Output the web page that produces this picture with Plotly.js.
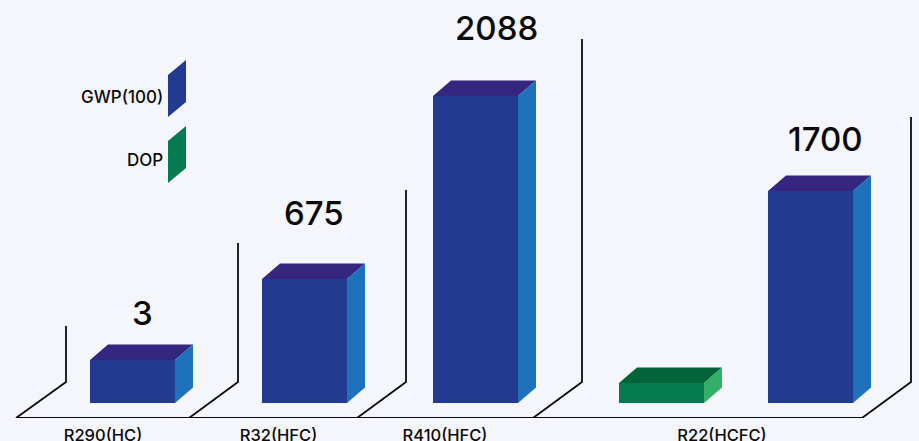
<!DOCTYPE html>
<html><head><meta charset="utf-8">
<script src="https://cdn.plot.ly/plotly-3.0.1.min.js"></script>
<style>html,body{margin:0;padding:0;background:#f4f6fb;overflow:hidden}#c{width:919px;height:441px}</style>
</head><body><div id="c"></div>
<script>
// Data: drawn heights (the source bars are not to scale)
const categories = ['R290(HC)', 'R32(HFC)', 'R410(HFC)', 'R22(HCFC)'];
const gwpLabels = ['3', '675', '2088', '1700'];
const gwpHeights = [43, 124, 307, 212];
const dopHeights = [20];
const legendNames = ['GWP(100)', 'DOP'];

// Layout constants
const gwpX = [132.5, 304.5, 475.5, 810.5];
const dopX = [661.5];
const tickX = [103, 278.5, 445, 722];
const labelX = [142, 314, 496, 825.5];
const labelPos = [90, 190, 375, 264];
const legendTextPos = [306, 243];
const legendSwatchPos = [286, 220];
const W = 85, DX = 18, DY = 15.5, BASE = 15, SWATCH = 42;
const wallX = [66, 238, 406, 582, 911];
const floorStart = [16, 189, 357, 533, 862];
const wallTop = [77, 160, 213, 364, 286];
const C = {front:'#223a8f', top:'#352680', side:'#1e72bb',
           gFront:'#047a50', gTop:'#036537', gSide:'#32ae68'};

function faces(xs, hs) {
  const top = {x:[], y:[]}, side = {x:[], y:[]};
  xs.forEach((c, i) => {
    const l = c - W/2, r = c + W/2, h = hs[i];
    top.x.push(l, l+DX, r+DX, r, l, null);
    top.y.push(h, h+DY, h+DY, h, h, null);
    side.x.push(r, r+DX, r+DX, r, r, null);
    side.y.push(h, h+DY, DY, 0, h, null);
  });
  return {top, side};
}
function poly(p, color, name) {
  return {type:'scatter', mode:'lines', x:p.x, y:p.y, fill:'toself', fillcolor:color,
          line:{width:0, color:color}, hoverinfo:'skip', showlegend:false, name:name};
}
function bar(xs, hs, color, name) {
  return {type:'bar', x:xs, y:hs, width:W, base:0, marker:{color:color, line:{width:0}},
          name:name, hoverinfo:'skip', showlegend:false};
}
const g = faces(gwpX, gwpHeights), d = faces(dopX, dopHeights);
const traces = [
  bar(gwpX, gwpHeights, C.front, legendNames[0]),
  bar(dopX, dopHeights, C.gFront, legendNames[1]),
  poly(g.top, C.top, 'top'), poly(g.side, C.side, 'side'),
  poly(d.top, C.gTop, 'top'), poly(d.side, C.gSide, 'side')
];

const line = {color:'#0b0b0b', width:1.8};
const shapes = [
  {type:'line', xref:'x', yref:'y', x0:floorStart[0], x1:floorStart[4], y0:-BASE, y1:-BASE, line}
];
wallX.forEach((wx, i) => {
  shapes.push({type:'path', xref:'x', yref:'y', line, fillcolor:'rgba(0,0,0,0)',
    path:`M${floorStart[i]},${-BASE} L${wx},${21} L${wx},${wallTop[i]}`});
});
[C.front, C.gFront].forEach((col, i) => {
  const b = legendSwatchPos[i];
  shapes.push({type:'path', xref:'x', yref:'y', fillcolor:col, line:{width:0},
    path:`M168,${b} L168,${b+SWATCH} L186,${b+SWATCH+15} L186,${b+15} Z`});
});

const font = {family:'Inter, "Open Sans", sans-serif', color:'#0a0a0a'};
const annotations = gwpLabels.map((t, i) => ({
  text:t, x:labelX[i], y:labelPos[i], xref:'x', yref:'y', showarrow:false,
  xanchor:'center', yanchor:'middle', font:{...font, size:33, weight:500}
}));
legendNames.forEach((t, i) => annotations.push({
  text:t, x:164.5, y:legendTextPos[i], xref:'x', yref:'y', showarrow:false, xanchor:'right', yanchor:'middle',
  font:{...font, size:17, weight:500}
}));

Plotly.newPlot('c', traces, {
  width:919, height:441, margin:{l:0, r:0, t:0, b:23},
  paper_bgcolor:'#f4f6fb', plot_bgcolor:'#f4f6fb', showlegend:false, barmode:'overlay',
  xaxis:{range:[0,919], tickmode:'array', tickvals:tickX, ticktext:categories, ticks:'outside', ticklen:2,
         tickcolor:'rgba(0,0,0,0)', showgrid:false, zeroline:false, showline:false,
         tickfont:{...font, size:16.5, weight:500}, fixedrange:true},
  yaxis:{range:[-BASE,403], visible:false, showgrid:false, zeroline:false, fixedrange:true},
  shapes, annotations
}, {displayModeBar:false, staticPlot:true});
</script></body></html>
